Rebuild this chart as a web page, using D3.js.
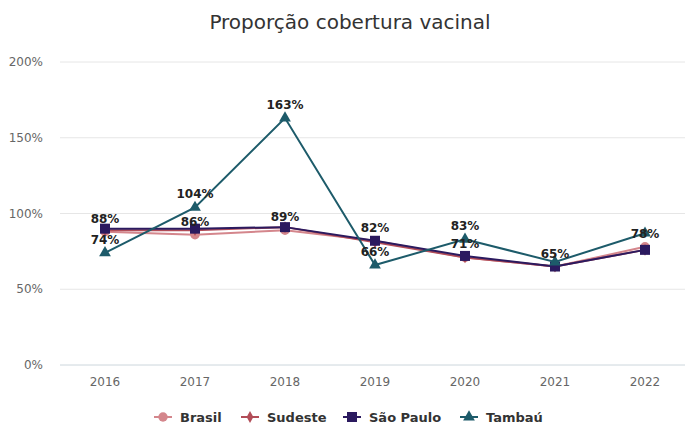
<!DOCTYPE html>
<html>
<head>
<meta charset="utf-8">
<script src="https://cdn.jsdelivr.net/npm/d3@7"></script>
<style>
  body { margin: 0; background: #fff; }
  text { font-family: "DejaVu Sans", sans-serif; }
</style>
</head>
<body>
<div id="chart"></div>
<script>
var years = ["2016", "2017", "2018", "2019", "2020", "2021", "2022"];
var brasil = [88, 86, 89, 82, 71, 65, 78];
var sudeste = [89, 89, 91, 81, 71, 65, 76];
var saoPaulo = [90, 90, 91, 82, 72, 65, 76];
var tambau = [74, 104, 163, 66, 83, 68, 87];
var yTicks = [0, 50, 100, 150, 200];

var series = [
  { name: "Brasil", values: brasil, color: "#d4868c", symbol: d3.symbolCircle, size: 70, label: true },
  { name: "Sudeste", values: sudeste, color: "#b24d58", symbol: d3.symbolDiamond, size: 40, label: false },
  { name: "São Paulo", values: saoPaulo, color: "#2b1a5f", symbol: d3.symbolSquare, size: 100, label: false },
  { name: "Tambaú", values: tambau, color: "#1d5b6a", symbol: d3.symbolTriangle, size: 60, label: true }
];

var width = 687, height = 426;
var svg = d3.select("#chart").append("svg")
  .attr("width", width)
  .attr("height", height);

var x = d3.scalePoint().domain(years).range([105, 645]);
var y = d3.scaleLinear().domain([0, 200]).range([365, 62]);

svg.append("text")
  .attr("x", 350).attr("y", 29)
  .attr("text-anchor", "middle")
  .attr("font-size", 20)
  .attr("fill", "#333")
  .text("Proporção cobertura vacinal");

// grid
svg.append("g").selectAll("line")
  .data(yTicks)
  .enter().append("line")
  .attr("x1", 60).attr("x2", 685)
  .attr("y1", d => y(d)).attr("y2", d => y(d))
  .attr("stroke", d => d === 0 ? "#ccd6dc" : "#e6e6e6")
  .attr("stroke-width", 1);

svg.append("g").selectAll("text")
  .data(yTicks)
  .enter().append("text")
  .attr("x", 43).attr("y", d => y(d) + 4)
  .attr("text-anchor", "end")
  .attr("font-size", 12)
  .attr("fill", "#666")
  .text(d => d + "%");

svg.append("g").selectAll("text")
  .data(years)
  .enter().append("text")
  .attr("x", d => x(d)).attr("y", 386)
  .attr("text-anchor", "middle")
  .attr("font-size", 12)
  .attr("fill", "#666")
  .text(d => d);

var line = d3.line()
  .x((d, i) => x(years[i]))
  .y(d => y(d));

series.forEach(function(s) {
  var g = svg.append("g");
  g.append("path")
    .attr("d", line(s.values))
    .attr("fill", "none")
    .attr("stroke", s.color)
    .attr("stroke-width", 2);
  g.selectAll("path.pt")
    .data(s.values)
    .enter().append("path")
    .attr("class", "pt")
    .attr("transform", (d, i) => "translate(" + x(years[i]) + "," + y(d) + ")")
    .attr("d", d3.symbol().type(s.symbol).size(s.size))
    .attr("fill", s.color);
});

// data labels, hiding ones that collide
var placed = [];
series.filter(s => s.label).forEach(function(s) {
  s.values.forEach(function(v, i) {
    var lx = x(years[i]), ly = y(v) - 9;
    var hit = placed.some(p => Math.abs(p.x - lx) < 30 && Math.abs(p.y - ly) < 16);
    if (hit) return;
    placed.push({ x: lx, y: ly });
    svg.append("text")
      .attr("x", lx).attr("y", ly)
      .attr("text-anchor", "middle")
      .attr("font-size", 12)
      .attr("font-weight", "bold")
      .attr("fill", "#222")
      .text(v + "%");
  });
});

// legend
var legendX = [163, 250, 352, 469];
var legend = svg.append("g");
series.forEach(function(s, i) {
  var lg = legend.append("g").attr("transform", "translate(" + legendX[i] + ",417)");
  lg.append("line").attr("x1", -9).attr("x2", 9)
    .attr("stroke", s.color).attr("stroke-width", 2);
  lg.append("path")
    .attr("d", d3.symbol().type(s.symbol).size(s.size))
    .attr("fill", s.color);
  lg.append("text")
    .attr("x", 17).attr("y", 5)
    .attr("font-size", 13)
    .attr("font-weight", "bold")
    .attr("fill", "#333")
    .text(s.name);
});
</script>
</body>
</html>
